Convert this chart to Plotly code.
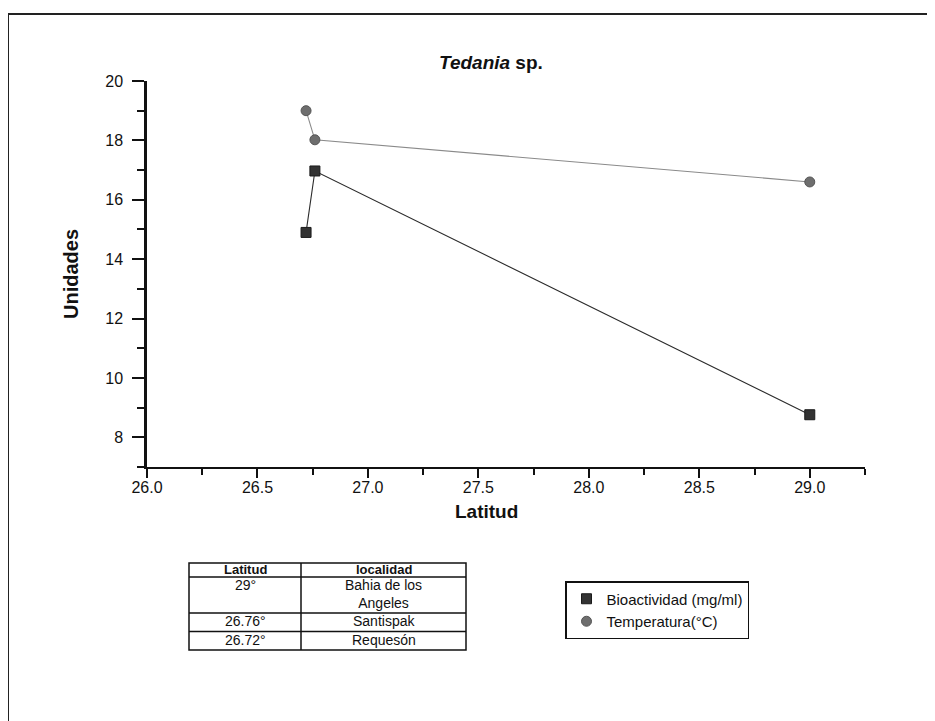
import plotly.graph_objects as go

# ---- data ----
latitud = [26.72, 26.76, 29.0]
bioactividad = [14.9, 16.97, 8.76]
temperatura = [19.0, 18.02, 16.6]

x_ticks = [26.0, 26.5, 27.0, 27.5, 28.0, 28.5, 29.0]
y_ticks = [8, 10, 12, 14, 16, 18, 20]

tabla_latitud = ["29°", "26.76°", "26.72°"]
tabla_localidad = ["Bahia de los<br>Angeles", "Santispak", "Requesón"]
tabla_header = ["Latitud", "localidad"]

# ---- geometry helpers (page pixel -> paper) ----
OFF = 8  # page offset of the figure in the browser
W, H = 935, 721
ML, MT = 147 - OFF, 81 - OFF
PW, PH = 718, 386
MR = W - ML - PW
MB = H - MT - PH


def px(x):
    return (x - OFF - ML) / PW


def py(y):
    return (MT + PH - (y - OFF)) / PH


FONT = "Arial, 'Liberation Sans', Helvetica, sans-serif"

fig = go.Figure()
# connecting lines (no legend entry)
fig.add_trace(go.Scatter(
    x=latitud, y=bioactividad, mode="lines", showlegend=False, hoverinfo="skip",
    line=dict(color="#2b2b2b", width=1.1),
))
fig.add_trace(go.Scatter(
    x=latitud, y=temperatura, mode="lines", showlegend=False, hoverinfo="skip",
    line=dict(color="#8a8a8a", width=1.1),
))
# markers (legend shows marker only)
fig.add_trace(go.Scatter(
    x=latitud, y=bioactividad, mode="markers",
    name="Bioactividad (mg/ml)",
    marker=dict(symbol="square", size=10, color="#333333",
                line=dict(color="#1a1a1a", width=1)),
))
fig.add_trace(go.Scatter(
    x=latitud, y=temperatura, mode="markers",
    name="Temperatura(°C)",
    marker=dict(symbol="circle", size=10, color="#6e6e6e",
                line=dict(color="#555555", width=1)),
))

shapes = []
annotations = []

# outer frame (top and left edges)
shapes.append(dict(type="line", xref="paper", yref="paper",
                   x0=px(7), x1=px(945), y0=py(14), y1=py(14),
                   line=dict(color="#222", width=2)))
shapes.append(dict(type="line", xref="paper", yref="paper",
                   x0=px(8), x1=px(8), y0=py(14), y1=py(740),
                   line=dict(color="#222", width=2)))

# ---- table drawn with shapes + annotations ----
t_left, t_mid, t_right = 189, 301, 466
row_lines = [563, 577, 613, 631.5, 650]
tl = dict(color="#111", width=1.5)
shapes.append(dict(type="rect", xref="paper", yref="paper",
                   x0=px(t_left), x1=px(t_right), y0=py(row_lines[0]), y1=py(row_lines[-1]),
                   line=tl))
shapes.append(dict(type="line", xref="paper", yref="paper",
                   x0=px(t_mid), x1=px(t_mid), y0=py(row_lines[0]), y1=py(row_lines[-1]),
                   line=tl))
for yl in row_lines[1:-1]:
    shapes.append(dict(type="line", xref="paper", yref="paper",
                       x0=px(t_left), x1=px(t_right), y0=py(yl), y1=py(yl), line=tl))

col_c = [(t_left + t_mid) / 2, (t_mid + t_right) / 2]
for i, h in enumerate(tabla_header):
    annotations.append(dict(xref="paper", yref="paper", x=px(col_c[i]),
                            y=py((row_lines[0] + row_lines[1]) / 2 - 1),
                            text="<b>" + h + "</b>", showarrow=False,
                            xanchor="center", yanchor="middle",
                            font=dict(family=FONT, size=13, color="#111")))
for r in range(len(tabla_latitud)):
    top = row_lines[r + 1]
    annotations.append(dict(xref="paper", yref="paper", x=px(col_c[0]),
                            y=py(top - 2), text=tabla_latitud[r], showarrow=False,
                            xanchor="center", yanchor="top",
                            font=dict(family=FONT, size=14, color="#111")))
    annotations.append(dict(xref="paper", yref="paper", x=px(col_c[1]),
                            y=py(top - 2), text=tabla_localidad[r], showarrow=False,
                            xanchor="center", yanchor="top",
                            font=dict(family=FONT, size=14, color="#111")))

# title
annotations.append(dict(xref="paper", yref="paper", x=px(491), y=py(62),
                        text="<b><i>Tedania</i> sp.</b>", showarrow=False,
                        xanchor="center", yanchor="middle",
                        font=dict(family=FONT, size=19, color="#111")))
# x axis title
annotations.append(dict(xref="paper", yref="paper", x=px(486), y=py(511),
                        text="<b>Latitud</b>", showarrow=False,
                        xanchor="center", yanchor="middle",
                        font=dict(family=FONT, size=19, color="#111")))

fig.update_layout(
    width=W, height=H,
    margin=dict(l=ML, r=MR, t=MT, b=MB),
    paper_bgcolor="white", plot_bgcolor="white",
    font=dict(family=FONT, color="#111"),
    shapes=shapes, annotations=annotations,
    showlegend=True,
    legend=dict(x=px(565), y=py(581), xanchor="left", yanchor="top",
                bordercolor="#111", borderwidth=1.5, bgcolor="white",
                font=dict(family=FONT, size=15, color="#111"),
                tracegroupgap=0, itemwidth=30),
    xaxis=dict(range=[26.0, 29.25], tickvals=x_ticks,
               ticktext=[f"{v:.1f}" for v in x_ticks],
               showline=True, linecolor="#111", linewidth=2,
               ticks="outside", ticklen=9, tickwidth=2, tickcolor="#111",
               ticklabelstandoff=-4,
               minor=dict(dtick=0.25, tick0=26.0, ticks="outside", ticklen=6,
                          tickwidth=2, tickcolor="#111"),
               showgrid=False, zeroline=False,
               tickfont=dict(family=FONT, size=16, color="#111")),
    yaxis=dict(range=[7, 20], tickvals=y_ticks,
               showline=True, linecolor="#111", linewidth=2.5,
               ticks="outside", ticklen=12, tickwidth=2, tickcolor="#111",
               ticklabelstandoff=6,
               minor=dict(dtick=1, tick0=7, ticks="outside", ticklen=7,
                          tickwidth=2, tickcolor="#111"),
               showgrid=False, zeroline=False,
               tickfont=dict(family=FONT, size=16, color="#111"),
               title=dict(text="<b>Unidades</b>", standoff=22,
                          font=dict(family=FONT, size=20, color="#111"))),
)

fig.write_html("out.html")
